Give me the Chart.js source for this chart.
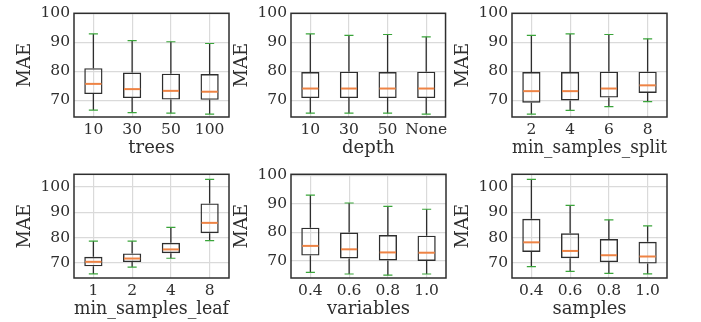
<!DOCTYPE html>
<html>
<head>
<meta charset="utf-8">
<script src="https://cdn.jsdelivr.net/npm/chart.js@4/dist/chart.umd.min.js"></script>
<style>
  body { margin: 0; background: #fff; }
  #wrap { position: relative; width: 701px; height: 322px; }
  .panel { position: absolute; width: 235px; height: 161px; }
</style>
</head>
<body>
<div id="wrap">
  <div class="panel" style="left:0px;top:0px"><canvas id="c0"></canvas></div>
  <div class="panel" style="left:217px;top:0px"><canvas id="c1"></canvas></div>
  <div class="panel" style="left:438px;top:0px"><canvas id="c2"></canvas></div>
  <div class="panel" style="left:0px;top:161px"><canvas id="c3"></canvas></div>
  <div class="panel" style="left:217px;top:161px"><canvas id="c4"></canvas></div>
  <div class="panel" style="left:438px;top:161px"><canvas id="c5"></canvas></div>
</div>
<script>
// each box: [whisker low, q1, median, q3, whisker high]
const treesLabels = ['10', '30', '50', '100'];
const treesBoxes = [
  [66.7, 72.2, 75.7, 81.1, 92.9],
  [65.8, 70.8, 73.9, 79.6, 90.6],
  [65.6, 70.3, 73.3, 79.2, 90.2],
  [65.3, 70.2, 73.0, 79.1, 89.6]
];
const depthLabels = ['10', '30', '50', 'None'];
const depthBoxes = [
  [65.6, 70.8, 74.1, 79.8, 92.9],
  [65.6, 70.8, 74.1, 79.9, 92.4],
  [65.6, 70.8, 74.1, 79.8, 92.7],
  [65.3, 70.8, 74.1, 79.9, 91.9]
];
const splitLabels = ['2', '4', '6', '8'];
const splitBoxes = [
  [65.3, 69.2, 73.2, 79.8, 92.4],
  [66.6, 70.0, 73.2, 79.8, 92.9],
  [67.9, 71.0, 74.1, 79.9, 92.7],
  [69.6, 72.6, 75.2, 79.9, 91.2]
];
const leafLabels = ['1', '2', '4', '8'];
const leafBoxes = [
  [65.6, 68.6, 70.4, 72.4, 78.6],
  [68.3, 70.3, 71.7, 73.7, 78.6],
  [71.8, 73.8, 75.3, 77.9, 84.0],
  [78.8, 81.7, 85.8, 93.5, 103.0]
];
const variablesLabels = ['0.4', '0.6', '0.8', '1.0'];
const variablesBoxes = [
  [65.9, 71.8, 75.2, 81.6, 93.1],
  [65.3, 70.8, 74.0, 79.9, 90.3],
  [64.9, 70.1, 72.9, 79.0, 89.1],
  [65.3, 69.9, 72.8, 78.8, 88.1]
];
const samplesLabels = ['0.4', '0.6', '0.8', '1.0'];
const samplesBoxes = [
  [68.5, 74.3, 78.1, 87.4, 103.0],
  [66.6, 71.8, 74.7, 81.7, 92.7],
  [65.8, 70.3, 73.0, 79.4, 87.0],
  [65.6, 69.7, 72.5, 78.3, 84.6]
];
const yTicks = [70, 80, 90, 100];

const panels = [
  { id: 'c0', title: 'trees', labels: treesLabels, boxes: treesBoxes, min: 64.3, max: 100 },
  { id: 'c1', title: 'depth', labels: depthLabels, boxes: depthBoxes, min: 64.3, max: 100 },
  { id: 'c2', title: 'min_samples_split', labels: splitLabels, boxes: splitBoxes, min: 64.3, max: 100 },
  { id: 'c3', title: 'min_samples_leaf', labels: leafLabels, boxes: leafBoxes, min: 64, max: 105 },
  { id: 'c4', title: 'variables', labels: variablesLabels, boxes: variablesBoxes, min: 63.9, max: 100.4 },
  { id: 'c5', title: 'samples', labels: samplesLabels, boxes: samplesBoxes, min: 64, max: 105 }
];

const ink = '#2e2e2e';
const medianColor = '#ee8344';
const capColor = '#3aa53a';
const gridColor = '#dadada';

// whiskers, caps, medians and the frame, all placed through the chart scales
const boxPlugin = {
  id: 'boxParts',
  afterDatasetsDraw(chart) {
    const ctx = chart.ctx;
    const xs = chart.scales.x, ys = chart.scales.y;
    const boxes = chart.config.options.plugins.boxParts.boxes;
    const bars = chart.getDatasetMeta(0).data;
    ctx.save();
    boxes.forEach((b, i) => {
      const x = xs.getPixelForValue(i);
      const half = bars[i].width / 2;
      const yLo = ys.getPixelForValue(b[0]);
      const yQ1 = ys.getPixelForValue(b[1]);
      const yMed = ys.getPixelForValue(b[2]);
      const yQ3 = ys.getPixelForValue(b[3]);
      const yHi = ys.getPixelForValue(b[4]);
      ctx.strokeStyle = ink;
      ctx.lineWidth = 1.3;
      ctx.beginPath();
      ctx.moveTo(x, yQ3); ctx.lineTo(x, yHi);
      ctx.moveTo(x, yQ1); ctx.lineTo(x, yLo);
      ctx.stroke();
      ctx.strokeStyle = capColor;
      ctx.lineWidth = 1.2;
      ctx.beginPath();
      ctx.moveTo(x - half / 2, yHi); ctx.lineTo(x + half / 2, yHi);
      ctx.moveTo(x - half / 2, yLo); ctx.lineTo(x + half / 2, yLo);
      ctx.stroke();
      ctx.strokeStyle = medianColor;
      ctx.lineWidth = 2;
      ctx.beginPath();
      ctx.moveTo(x - half + 1, yMed); ctx.lineTo(x + half - 1, yMed);
      ctx.stroke();
    });
    const a = chart.chartArea;
    ctx.strokeStyle = ink;
    ctx.lineWidth = 1.5;
    ctx.strokeRect(a.left, a.top, a.right - a.left, a.bottom - a.top);
    ctx.restore();
  }
};

const serif = 'DejaVu Serif';

panels.forEach(p => {
  new Chart(document.getElementById(p.id), {
    type: 'bar',
    data: {
      labels: p.labels,
      datasets: [{
        data: p.boxes.map(b => [b[1], b[3]]),
        backgroundColor: 'rgba(0,0,0,0)',
        borderColor: ink,
        borderWidth: 1.4,
        borderSkipped: false,
        barPercentage: 0.47,
        categoryPercentage: 1
      }]
    },
    options: {
      responsive: true,
      maintainAspectRatio: false,
      animation: false,
      layout: { padding: { top: 10, right: 6, left: 0, bottom: 0 } },
      plugins: {
        legend: { display: false },
        tooltip: { enabled: false },
        boxParts: { boxes: p.boxes }
      },
      scales: {
        x: {
          afterFit: s => { s.height = 44; },
          grid: { color: gridColor, offset: false, drawTicks: false, lineWidth: 1.2 },
          border: { display: false },
          ticks: { color: ink, padding: 4, maxRotation: 0, minRotation: 0, autoSkip: false, font: { family: serif, size: 15.5 } },
          title: { display: true, text: p.title, color: ink, padding: { top: 0, bottom: 2 }, font: { family: serif, size: 18 } }
        },
        y: {
          min: p.min,
          max: p.max,
          afterFit: s => { s.width = 74; },
          afterBuildTicks: s => { s.ticks = yTicks.map(v => ({ value: v })); },
          grid: { color: gridColor, drawTicks: false, lineWidth: 1.2 },
          border: { display: false },
          ticks: { color: ink, padding: 4, font: { family: serif, size: 15.5 } },
          title: { display: true, text: 'MAE', color: ink, padding: { top: 15, bottom: 0 }, font: { family: serif, size: 18 } }
        }
      }
    },
    plugins: [boxPlugin]
  });
});
</script>
</body>
</html>
